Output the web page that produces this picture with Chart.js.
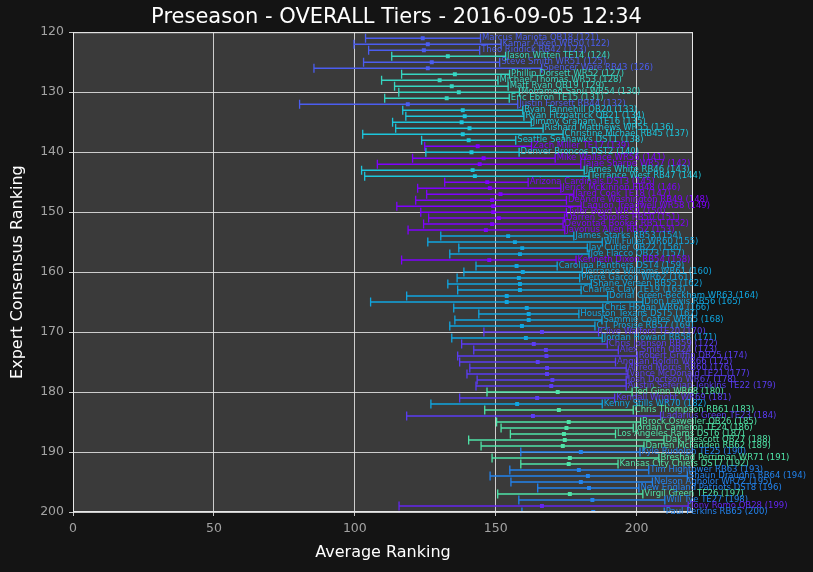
<!DOCTYPE html>
<html>
<head>
<meta charset="utf-8">
<script src="https://cdn.jsdelivr.net/npm/chart.js@4.4.1/dist/chart.umd.min.js"></script>
<style>
  html, body { margin: 0; padding: 0; background: #141414; }
  #wrap { width: 813px; height: 572px; }
</style>
</head>
<body>
<div id="wrap"><canvas id="tiers" width="813" height="572"></canvas></div>
<script>
const players = [
  'Marcus Mariota QB18', 'Kamar Aiken WR50', 'Theo Riddick RB42', 'Jason Witten TE14', 'Steve Smith WR51',
  'Spencer Ware RB43', 'Phillip Dorsett WR52', 'Michael Thomas WR53', 'Matt Ryan QB19', 'Mohamed Sanu WR54',
  'Eric Ebron TE15', 'Justin Forsett RB44', 'Ryan Tannehill QB20', 'Ryan Fitzpatrick QB21', 'Jimmy Graham TE16',
  'Rishard Matthews WR55', 'Christine Michael RB45', 'Seattle Seahawks DST1', 'Zach Miller TE17', 'Denver Broncos DST2',
  'Mike Wallace WR56', 'Tajae Sharpe WR57', 'James White RB46', 'Terrance West RB47', 'Arizona Cardinals DST3',
  'Jerick McKinnon RB48', 'Jared Cook TE18', 'DeAndre Washington RB49', 'Laquon Treadwell WR58', 'Tyler Boyd WR59',
  'Darren Sproles RB50', 'Devontae Booker RB51', 'Javorius Allen RB52', 'James Starks RB53', 'Will Fuller WR60',
  'Jay Cutler QB22', 'Joe Flacco QB23', 'Kenneth Dixon RB54', 'Carolina Panthers DST4', 'Terrance Williams WR61',
  'Pierre Garcon WR62', 'Shane Vereen RB55', 'Charles Clay TE19', 'Dorial Green-Beckham WR63', 'Dion Lewis RB56',
  'Chris Hogan WR64', 'Houston Texans DST5', 'Sammie Coates WR65', 'C.J. Prosise RB57', 'Clive Walford TE20',
  'Jordan Howard RB58', 'Chris Johnson RB59', 'Alex Smith QB24', 'Robert Griffin QB25', 'Anquan Boldin WR66',
  'Alfred Morris RB60', 'Vance McDonald TE21', 'Josh Doctson WR67', 'Austin Seferian-Jenkins TE22', 'Ted Ginn WR68',
  'Kendall Wright WR69', 'Kenny Stills WR70', 'Chris Thompson RB61', 'Ladarius Green TE23', 'Brock Osweiler QB26',
  'Jordan Cameron TE24', 'Los Angeles Rams DST6', 'Dak Prescott QB27', 'Darren McFadden RB62', 'Kyle Rudolph TE25',
  'Breshad Perriman WR71', 'Kansas City Chiefs DST7', 'Tim Hightower RB63', 'Shaun Draughn RB64', 'Nelson Agholor WR72',
  'New England Patriots DST8', 'Virgil Green TE26', 'Will Tye TE27', 'Tony Romo QB28', 'Paul Perkins RB65'
];

const ranks = [
  121, 122, 123, 124, 125, 126, 127, 128, 129, 130,
  131, 132, 133, 134, 135, 136, 137, 138, 139, 140,
  141, 142, 143, 144, 145, 146, 147, 148, 149, 150,
  151, 152, 153, 154, 155, 156, 157, 158, 159, 160,
  161, 162, 163, 164, 165, 166, 167, 168, 169, 170,
  171, 172, 173, 174, 175, 176, 177, 178, 179, 180,
  181, 182, 183, 184, 185, 186, 187, 188, 189, 190,
  191, 192, 193, 194, 195, 196, 197, 198, 199, 200
];

const minRanks = [
  103.8, 99.7, 104.9, 113.1, 103.1, 85.5, 116.6, 109.5, 114.1, 115.6,
  110.6, 80.4, 117.0, 118.1, 113.4, 114.5, 102.8, 123.7, 124.8, 125.2,
  120.5, 108.0, 102.4, 103.5, 131.9, 122.3, 125.5, 121.6, 114.9, 123.4,
  126.2, 124.4, 118.9, 130.5, 125.9, 136.9, 133.7, 116.6, 143.0, 138.7,
  136.3, 133.0, 136.5, 118.4, 105.6, 135.1, 144.0, 135.5, 133.7, 145.8,
  134.4, 137.9, 142.2, 136.5, 137.2, 140.8, 139.8, 143.4, 143.0, 146.9,
  137.2, 127.0, 146.1, 118.4, 150.3, 151.9, 155.2, 140.4, 144.8, 158.9,
  148.7, 158.9, 155.0, 148.0, 155.4, 164.9, 150.7, 158.2, 115.7, 159.3
];

const avgRanks = [
  124.1, 125.9, 124.5, 133.0, 127.3, 125.9, 135.5, 130.1, 134.4, 136.9,
  132.6, 118.8, 138.3, 139.0, 137.9, 140.7, 138.3, 140.4, 143.6, 141.4,
  145.7, 144.3, 141.8, 142.6, 147.0, 147.9, 151.7, 148.7, 149.1, 149.1,
  151.1, 148.7, 146.5, 154.4, 156.8, 159.4, 158.6, 147.7, 157.4, 159.6,
  158.2, 158.6, 158.6, 153.9, 153.9, 161.0, 161.7, 161.7, 159.3, 166.4,
  160.7, 163.5, 167.8, 168.0, 164.9, 168.2, 168.2, 170.1, 169.7, 172.0,
  164.7, 157.6, 172.4, 163.2, 175.9, 175.1, 174.2, 174.5, 173.8, 180.2,
  176.3, 175.9, 179.5, 182.7, 180.2, 183.1, 176.3, 184.3, 166.4, 184.6
];

const maxRanks = [
  144.6, 151.9, 144.3, 153.5, 151.4, 166.3, 154.9, 150.8, 154.4, 158.4,
  154.8, 157.8, 159.6, 160.0, 162.6, 166.8, 173.9, 157.1, 162.7, 158.3,
  171.1, 180.2, 181.4, 183.1, 161.5, 173.1, 177.7, 175.1, 180.3, 175.1,
  174.4, 173.9, 174.5, 177.7, 187.8, 182.5, 183.1, 178.5, 171.8, 180.7,
  179.8, 183.9, 180.3, 189.7, 202.2, 188.0, 179.5, 187.7, 185.2, 186.5,
  187.8, 189.6, 193.5, 200.2, 192.5, 196.3, 196.9, 196.3, 196.3, 198.4,
  192.2, 187.8, 198.8, 208.5, 201.4, 198.8, 192.5, 209.7, 202.6, 201.2,
  207.9, 193.4, 204.3, 218.0, 205.6, 200.8, 202.2, 210.0, 218.3, 209.8
];

// tier index per player, colours below
const tiers = [
  0, 0, 0, 1, 0, 0, 1, 1, 1, 1,
  1, 0, 2, 2, 2, 2, 2, 2, 3, 2,
  3, 3, 2, 2, 3, 3, 3, 3, 3, 3,
  3, 3, 3, 4, 4, 4, 4, 3, 4, 4,
  4, 4, 4, 4, 4, 4, 4, 4, 4, 5,
  4, 5, 5, 5, 5, 5, 5, 5, 5, 6,
  5, 4, 6, 5, 6, 6, 6, 6, 6, 7,
  6, 6, 7, 7, 7, 7, 6, 7, 8, 7
];

const tierColors = ['#4b5df0', '#36d6c2', '#1cc6dc', '#8000ff', '#10a6e0', '#5b3cf4', '#4fe4a8', '#2283ee', '#6426f0'];

const xTicks = [0, 50, 100, 150, 200];
const yTicks = [120, 130, 140, 150, 160, 170, 180, 190, 200];

const FONT = '"DejaVu Sans", sans-serif';
const GRID = 'rgba(232, 232, 232, 0.85)';
const TICK_TEXT = '#a3a3a3';

const plotFrame = {
    id: 'plotFrame',
    beforeDraw(chart) {
        const { ctx, chartArea: a } = chart;
        ctx.save();
        ctx.fillStyle = '#3a3a3a';
        ctx.fillRect(a.left, a.top, a.right - a.left, a.bottom - a.top);
        ctx.restore();
    },
    afterDatasetsDraw(chart) {
        const { ctx, chartArea: a, scales } = chart;
        ctx.save();
        ctx.strokeStyle = '#e8e8e8';
        ctx.lineWidth = 1;
        ctx.strokeRect(a.left + 0.5, a.top + 0.5, a.right - a.left - 1, a.bottom - a.top - 1);

        // player labels sit at the right end of each range
        ctx.font = '8.5px ' + FONT;
        ctx.textBaseline = 'middle';
        ctx.textAlign = 'left';
        players.forEach((name, i) => {
            ctx.fillStyle = tierColors[tiers[i]];
            ctx.fillText(
                name + ' (' + ranks[i] + ')',
                scales.x.getPixelForValue(maxRanks[i]) + 1.5,
                scales.y.getPixelForValue(ranks[i])
            );
        });
        ctx.restore();
    },
};

const avgSet = {
    label: 'Average',
    data: avgRanks.map((v, i) => ({ x: v, y: ranks[i] })),
    showLine: false,
    pointStyle: 'rect',
    pointRadius: 2.8,
    pointBorderWidth: 0,
    backgroundColor: tiers.map((t) => tierColors[t]),
    borderColor: tiers.map((t) => tierColors[t]),
};

const rangeSets = players.map((name, i) => ({
    label: name,
    data: [
        { x: minRanks[i], y: ranks[i] },
        { x: maxRanks[i], y: ranks[i] },
    ],
    showLine: true,
    borderColor: tierColors[tiers[i]],
    backgroundColor: tierColors[tiers[i]],
    borderWidth: 1.5,
    pointStyle: 'line',
    rotation: 90,
    pointRadius: 4.5,
    pointBorderWidth: 1.3,
    pointBorderColor: tierColors[tiers[i]],
}));

new Chart(document.getElementById('tiers'), {
    type: 'scatter',
    data: {
        datasets: [avgSet, ...rangeSets],
    },
    plugins: [plotFrame],
    options: {
        responsive: false,
        animation: false,
        layout: {
            padding: { left: 0, right: 20, top: 0, bottom: 0 },
        },
        plugins: {
            legend: { display: false },
            tooltip: { enabled: false },
            title: {
                display: true,
                text: 'Preseason - OVERALL Tiers - 2016-09-05 12:34',
                color: '#ffffff',
                font: { family: FONT, size: 21, weight: 'normal' },
                padding: { top: 5, bottom: 2 },
            },
        },
        scales: {
            x: {
                type: 'linear',
                min: 0,
                max: 220,
                afterBuildTicks: (scale) => {
                    scale.ticks = xTicks.map((v) => ({ value: v }));
                },
                afterFit: (scale) => {
                    scale.height = 60;
                },
                grid: {
                    color: GRID,
                    lineWidth: 1,
                    tickLength: 4,
                    tickColor: GRID,
                },
                border: { display: false },
                ticks: {
                    color: TICK_TEXT,
                    padding: 5,
                    font: { family: FONT, size: 12.5 },
                    maxRotation: 0,
                },
                title: {
                    display: true,
                    text: 'Average Ranking',
                    color: '#ffffff',
                    font: { family: FONT, size: 16 },
                    padding: { top: 10, bottom: 10 },
                },
            },
            y: {
                type: 'linear',
                reverse: true,
                min: 120,
                max: 200,
                afterBuildTicks: (scale) => {
                    scale.ticks = yTicks.map((v) => ({ value: v }));
                },
                afterFit: (scale) => {
                    scale.width = 73;
                },
                grid: {
                    color: GRID,
                    lineWidth: 1,
                    tickLength: 4,
                    tickColor: GRID,
                },
                border: { display: false },
                ticks: {
                    color: TICK_TEXT,
                    padding: 5,
                    font: { family: FONT, size: 12.5 },
                },
                title: {
                    display: true,
                    text: 'Expert Consensus Ranking',
                    color: '#ffffff',
                    font: { family: FONT, size: 16 },
                    padding: { top: 8, bottom: 8 },
                },
            },
            // empty margin on the right where the long labels run out
            labelRoom: {
                type: 'linear',
                position: 'right',
                display: true,
                grid: { display: false },
                border: { display: false },
                ticks: { display: false },
                afterFit: (scale) => {
                    scale.width = 100;
                },
            },
        },
    },
});
</script>
</body>
</html>
